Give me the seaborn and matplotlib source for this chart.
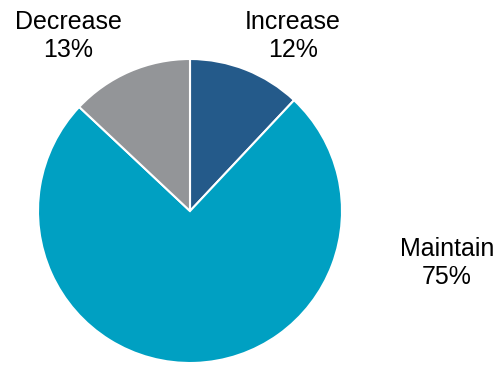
import matplotlib
matplotlib.use("Agg")
import matplotlib.pyplot as plt
import seaborn as sns

# data
labels = ["Increase", "Maintain", "Decrease"]
shares = [12, 75, 13]
colors = ["#245a8a", "#00a0c2", "#939598"]

sns.set_style("white")
plt.rcParams['font.family'] = ['Liberation Sans', 'DejaVu Sans']

fig = plt.figure(figsize=(5, 3.66), dpi=100)
ax = fig.add_axes([0.076, 0.0082, 0.608, 0.8306])

ax.pie(shares, colors=colors, startangle=90, counterclock=False, radius=1,
       wedgeprops=dict(edgecolor="white", linewidth=1.5))
ax.set_xlim(-1, 1)
ax.set_ylim(-1, 1)
ax.set_aspect("equal")
ax.axis("off")

# label positions (data coords relative to pie)
label_pos = [(0.678, 1.151), (1.69, -0.342), (-0.803, 1.151)]
for name, val, (x, y) in zip(labels, shares, label_pos):
    ax.text(x, y, f"{name}\n{val}%", ha="center", va="center",
            fontsize=18, linespacing=1.2, color="black", clip_on=False)

fig.savefig("out.png", dpi=100)
